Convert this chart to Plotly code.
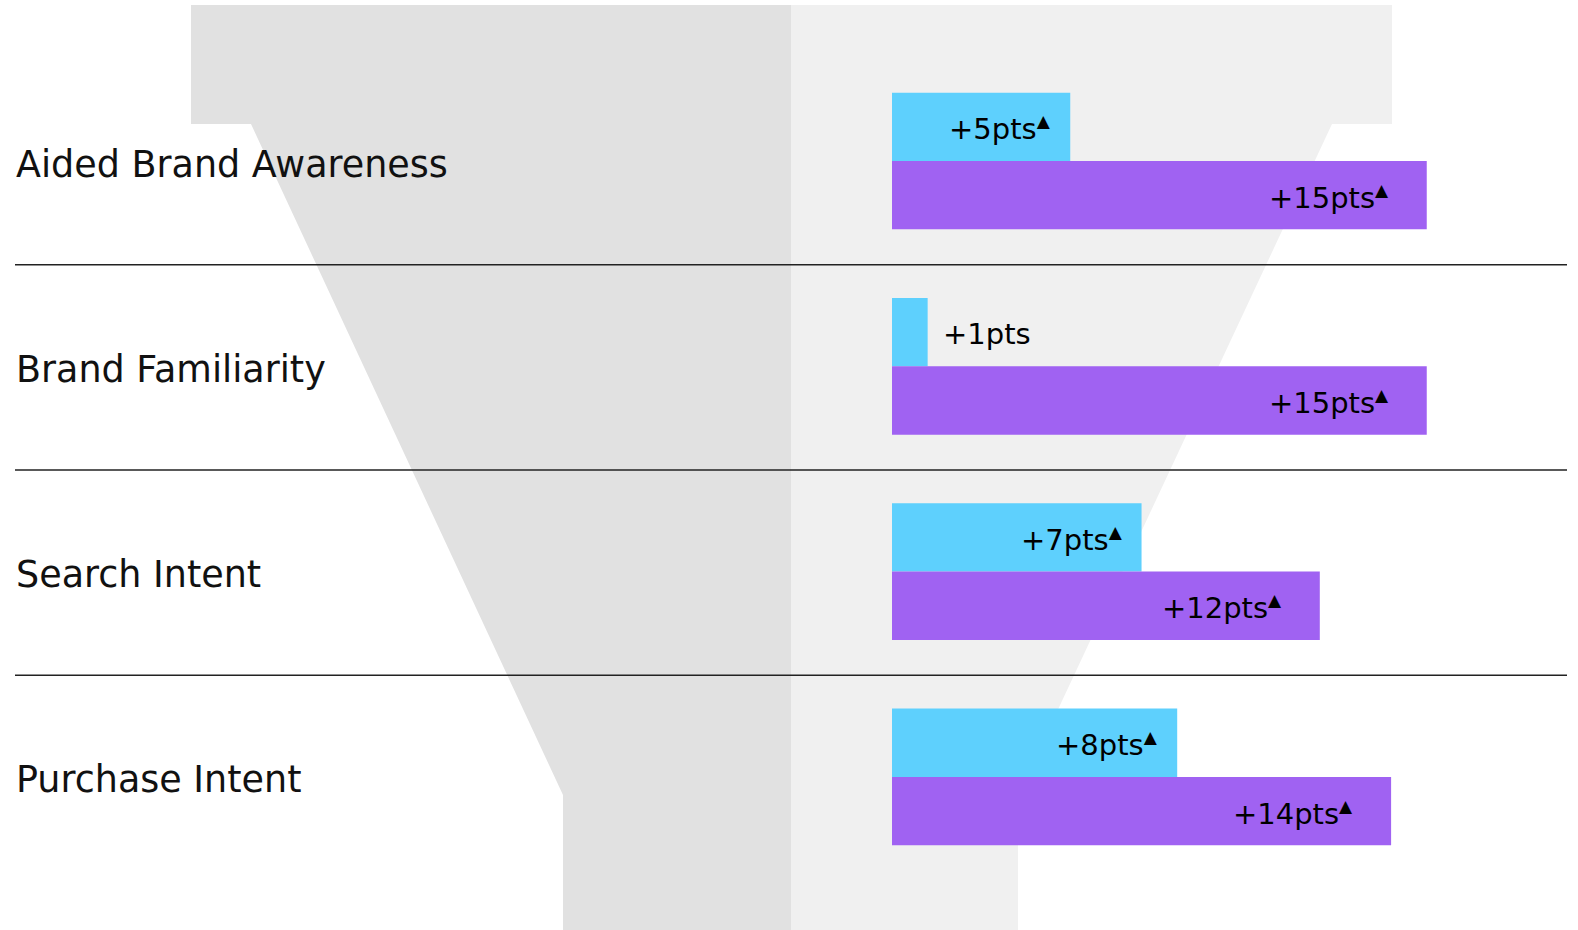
import plotly.graph_objects as go

W, H = 1578, 930

categories = ["Aided Brand Awareness", "Brand Familiarity", "Search Intent", "Purchase Intent"]
cyan_vals = [5, 1, 7, 8]
purple_vals = [15, 15, 12, 14]
cyan_sig = [True, False, True, True]
purple_sig = [True, True, True, True]

CYAN = "#5ED0FD"
PURPLE = "#A062F2"
FONT = "DejaVu Sans"

rows = list(range(len(categories)))

# axis mapping (pixels): value 0 at x=892, 35.65 px per pt; row 0 center at y=161, 205.3 px per row
px_per_pt = 35.65
x0_px = 892
xr = [-x0_px / px_per_pt, (W - x0_px) / px_per_pt]
row_px = 205.3
y0_px = 161
yr = [(H - y0_px) / row_px, -y0_px / row_px]

fig = go.Figure()
fig.add_trace(go.Bar(y=rows, x=cyan_vals, orientation="h", marker=dict(color=CYAN, line=dict(width=0)),
                     name="cyan", hoverinfo="skip"))
fig.add_trace(go.Bar(y=rows, x=purple_vals, orientation="h", marker=dict(color=PURPLE, line=dict(width=0)),
                     name="purple", hoverinfo="skip"))

def px(x, y):
    return x / W, 1 - y / H

def path(points):
    s = ""
    for i, (x, y) in enumerate(points):
        a, b = px(x, y)
        s += ("M" if i == 0 else "L") + f"{a:.5f},{b:.5f} "
    return s + "Z"

left = [(191, 5), (791, 5), (791, 930), (563, 930), (563, 795), (251, 124), (191, 124)]
right = [(791, 5), (1392, 5), (1392, 124), (1332, 124), (1018, 795), (1018, 930), (791, 930)]
shapes = [
    dict(type="path", xref="paper", yref="paper", path=path(left), fillcolor="#E1E1E1",
         line=dict(width=0), layer="below"),
    dict(type="path", xref="paper", yref="paper", path=path(right), fillcolor="#F0F0F0",
         line=dict(width=0), layer="below"),
]
for i in rows[:-1]:
    shapes.append(dict(type="line", xref="paper", yref="y", x0=15 / W, x1=1567 / W, y0=i + 0.505, y1=i + 0.505,
                       line=dict(color="#222222", width=1.5), layer="above"))

TRI = '<sup><span style="font-size:17px">▲</span></sup>'
annotations = []
for i, cat in enumerate(categories):
    annotations.append(dict(x=14 / W, xref="paper", y=i, yref="y", yshift=-3, text=cat, showarrow=False,
                            xanchor="left", yanchor="middle", font=dict(family=FONT, size=36.5, color="#111111")))

def label(v, sig):
    return f"+{v}pts" + (TRI if sig else "")

LBL = dict(family=FONT, size=29, color="#000000")
for i in rows:
    v = cyan_vals[i]
    txt = label(v, cyan_sig[i])
    if v >= 3:
        annotations.append(dict(x=v, xref="x", y=i - 1 / 6, yref="y", yshift=-2, text=txt, showarrow=False,
                                xanchor="right", xshift=-17, yanchor="middle", font=LBL))
    else:
        annotations.append(dict(x=v, xref="x", y=i - 1 / 6, yref="y", yshift=-2, text=txt, showarrow=False,
                                xanchor="left", xshift=13, yanchor="middle", font=LBL))
    v = purple_vals[i]
    annotations.append(dict(x=v, xref="x", y=i + 1 / 6, yref="y", yshift=-2, text=label(v, purple_sig[i]),
                            showarrow=False, xanchor="right", xshift=-36, yanchor="middle", font=LBL))

fig.update_layout(
    width=W, height=H, margin=dict(l=0, r=0, t=0, b=0),
    paper_bgcolor="white", plot_bgcolor="rgba(0,0,0,0)",
    barmode="group", bargap=0.334, bargroupgap=0,
    showlegend=False,
    xaxis=dict(range=xr, visible=False, fixedrange=True),
    yaxis=dict(range=yr, visible=False, fixedrange=True),
    shapes=shapes, annotations=annotations,
)

fig.write_html("out.html")
